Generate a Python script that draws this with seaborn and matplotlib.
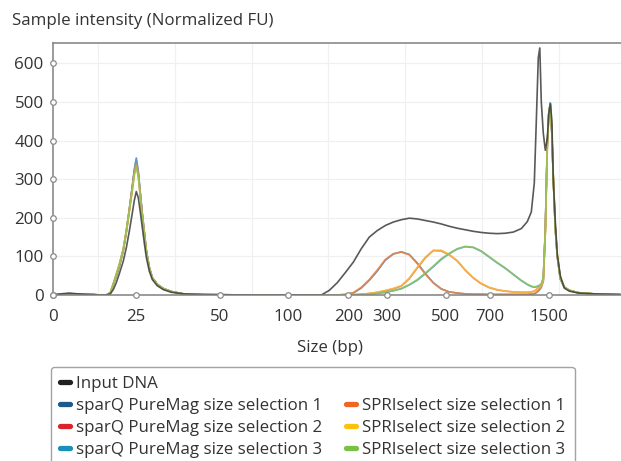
import numpy as np
import pandas as pd
import matplotlib
matplotlib.use("Agg")
import matplotlib.pyplot as plt
from matplotlib.lines import Line2D
import seaborn as sns

# migration position (arbitrary units along the run) and intensity per sample
pos = [0, 8, 16, 24, 32, 40, 48, 53, 57, 60,
       63, 66, 70, 73, 76, 79, 81, 83, 85, 87,
       89, 91, 93, 96, 99, 104, 110, 118, 130, 150,
       200, 250, 268, 276, 284, 292, 300, 308, 316, 324,
       332, 340, 348, 356, 364, 372, 380, 388, 396, 404,
       412, 420, 428, 436, 444, 452, 460, 468, 474, 478,
       481, 483, 485, 486.5, 488, 490, 492, 494, 495.5, 497,
       498.5, 500, 502, 504, 507, 511, 516, 525, 540, 567]

input_dna = [0, 3, 5, 3, 2, 1, 0, 0, 3, 14,
             32, 55, 88, 122, 165, 212, 245, 268, 252, 215,
             175, 135, 98, 62, 40, 24, 14, 7, 3, 1,
             0, 0, 0, 12, 32, 58, 85, 120, 150, 167,
             180, 189, 195, 199, 197, 193, 189, 184, 178, 173,
             169, 165, 162, 160, 159, 160, 163, 172, 190, 215,
             290, 450, 615, 640, 500, 419, 375, 405, 470, 495,
             455, 300, 190, 105, 50, 18, 10, 5, 3, 1]

sparq_1 = [0, 2, 3, 2, 1, 1, 0, 0, 5, 28,
           50, 75, 117, 165, 222, 282, 325, 355, 320, 265,
           212, 165, 117, 72, 45, 28, 17, 9, 3, 1,
           0, 0, 0, 0, 0, 1, 5, 18, 38, 62,
           90, 106, 112, 105, 83, 56, 32, 16, 8, 5,
           3, 2, 2, 1, 1, 1, 1, 1, 1, 2,
           3, 6, 10, 14, 20, 35, 168, 390, 470, 497,
           420, 300, 170, 100, 42, 20, 12, 6, 3, 1]

sparq_2 = [0, 2, 3, 2, 1, 1, 0, 0, 5, 26,
           48, 72, 114, 160, 218, 278, 320, 345, 315, 262,
           208, 162, 115, 71, 44, 27, 16, 9, 3, 1,
           0, 0, 0, 0, 0, 0, 1, 2, 4, 7,
           11, 16, 23, 42, 70, 96, 115, 114, 104, 88,
           64, 44, 29, 19, 13, 10, 8, 7, 7, 8,
           10, 14, 19, 22, 26, 40, 165, 388, 472, 496,
           422, 302, 172, 100, 42, 20, 12, 6, 3, 1]

sparq_3 = [0, 2, 3, 2, 1, 1, 0, 0, 5, 27,
           49, 74, 116, 163, 220, 280, 322, 350, 318, 263,
           210, 163, 116, 72, 45, 28, 17, 9, 3, 1,
           0, 0, 0, 0, 0, 0, 0, 1, 2, 4,
           7, 11, 16, 26, 38, 55, 73, 92, 107, 119,
           125, 123, 113, 98, 83, 69, 53, 37, 27, 22,
           20, 21, 23, 25, 28, 45, 170, 392, 474, 498,
           420, 300, 170, 100, 42, 20, 12, 6, 3, 1]

spri_1 = [0, 2, 3, 2, 1, 1, 0, 0, 6, 30,
          55, 80, 120, 168, 222, 278, 318, 340, 312, 258,
          205, 160, 114, 70, 44, 27, 16, 9, 3, 1,
          0, 0, 0, 0, 0, 2, 6, 20, 40, 65,
          92, 107, 111, 104, 81, 54, 31, 15, 8, 5,
          3, 2, 2, 2, 2, 2, 2, 2, 2, 3,
          4, 7, 12, 17, 22, 38, 160, 385, 468, 495,
          425, 305, 175, 102, 45, 21, 12, 6, 3, 1]

spri_2 = [0, 2, 3, 2, 1, 1, 0, 0, 6, 28,
          52, 78, 118, 163, 215, 270, 310, 330, 305, 255,
          202, 158, 112, 69, 43, 26, 16, 9, 3, 1,
          0, 0, 0, 0, 0, 0, 1, 2, 4, 7,
          12, 17, 24, 44, 72, 98, 116, 116, 105, 89,
          65, 45, 30, 20, 14, 10, 8, 7, 7, 8,
          10, 13, 18, 21, 25, 38, 158, 382, 468, 494,
          425, 305, 175, 102, 44, 21, 12, 6, 3, 1]

spri_3 = [0, 2, 3, 2, 1, 1, 0, 0, 6, 29,
          53, 79, 119, 166, 217, 272, 312, 335, 308, 256,
          204, 159, 113, 70, 44, 27, 16, 9, 3, 1,
          0, 0, 0, 0, 0, 0, 0, 1, 2, 4,
          7, 11, 17, 27, 40, 57, 75, 94, 108, 120,
          126, 124, 114, 99, 84, 70, 54, 38, 28, 23,
          21, 22, 24, 26, 29, 44, 165, 388, 470, 496,
          423, 303, 173, 101, 43, 21, 12, 6, 3, 1]

# ladder: size labels and where they sit on the position axis
ladder_bp = ["0", "25", "50", "100", "200", "300", "500", "700", "1500"]
ladder_pos = [0, 82.7, 166.7, 234.3, 295, 334, 392.3, 436.7, 496]
y_ticks = [0, 100, 200, 300, 400, 500, 600]

names = ["Input DNA",
         "sparQ PureMag size selection 1", "sparQ PureMag size selection 2",
         "sparQ PureMag size selection 3",
         "SPRIselect size selection 1", "SPRIselect size selection 2",
         "SPRIselect size selection 3"]
legend_colors = ["#231f20", "#1b5a8c", "#dc2229", "#1a8fb9",
                 "#f26524", "#fcc20e", "#7ac043"]
line_colors = ["#3c3c3c", "#4f7fb3", "#e8713a", "#4c9fd0",
               "#f0823a", "#f6b93b", "#8cc35a"]

df = pd.DataFrame({"pos": pos, names[0]: input_dna,
                   names[1]: sparq_1, names[2]: sparq_2, names[3]: sparq_3,
                   names[4]: spri_1, names[5]: spri_2, names[6]: spri_3})
long = df.melt(id_vars="pos", var_name="sample", value_name="FU")

sns.set_theme(style="white")
plt.rcParams["font.family"] = ["Open Sans", "DejaVu Sans"]
txt = "#333333"
fs = 12.2

fig = plt.figure(figsize=(6.21, 4.61), dpi=100)
ax = fig.add_axes([53.3 / 621, 166 / 461, 567.7 / 621, 252.3 / 461])

# faint background grid
for gx in np.arange(45, 567, 76.7):
    ax.axvline(gx, color="#f0f0f0", lw=0.9, zorder=0)
for gy in y_ticks[1:]:
    ax.axhline(gy, color="#f0f0f0", lw=0.9, zorder=0)

draw_order = names[1:] + names[:1]
sns.lineplot(data=long, x="pos", y="FU", hue="sample", hue_order=draw_order,
             palette=dict(zip(names, line_colors)), estimator=None, sort=False,
             lw=1.2, alpha=0.85, legend=False, ax=ax)

ax.set_xlim(0, 567.7)
ax.set_ylim(0, 653.6)
ax.set_xticks(ladder_pos)
ax.set_xticklabels(ladder_bp)
ax.set_yticks(y_ticks)
ax.tick_params(axis="both", length=0, labelsize=fs, colors=txt)
ax.tick_params(axis="x", pad=10)
ax.tick_params(axis="y", pad=7)
ax.set_xlabel("Size (bp)", fontsize=fs, color=txt)
ax.xaxis.set_label_coords(0.487, -0.18)
ax.set_ylabel("")
for s in ["left", "bottom", "top"]:
    ax.spines[s].set_color("#808080")
    ax.spines[s].set_linewidth(1.1)
ax.spines["right"].set_visible(False)

# round tick markers on the axes
ax.plot(ladder_pos, [0] * len(ladder_pos), "o", ms=4, mfc="white", mec="#8a8a8a",
        mew=0.9, clip_on=False, zorder=5)
ax.plot([0] * len(y_ticks), y_ticks, "o", ms=4, mfc="white", mec="#8a8a8a",
        mew=0.9, clip_on=False, zorder=5)

fig.text(12 / 621, 1 - 21 / 461, "Sample intensity (Normalized FU)",
         fontsize=fs, color=txt, ha="left", va="center")

handles = [Line2D([], [], color=legend_colors[0], lw=3.8, solid_capstyle="round")]
labels = [names[0]]
for i in range(1, 4):
    handles.append(Line2D([], [], color=legend_colors[i], lw=3.8, solid_capstyle="round"))
    labels.append(names[i])
handles.append(Line2D([], [], color="none"))
labels.append("")
for i in range(4, 7):
    handles.append(Line2D([], [], color=legend_colors[i], lw=3.8, solid_capstyle="round"))
    labels.append(names[i])

leg = fig.legend(handles, labels, ncol=2, loc="upper left",
                 bbox_to_anchor=(50.7 / 621, 1 - 367 / 461), borderaxespad=0,
                 frameon=True, fancybox=True, fontsize=fs, handlelength=0.57,
                 handletextpad=0.38, columnspacing=1.4, labelspacing=0.35,
                 borderpad=0.55)
leg.get_frame().set_edgecolor("#8c8c8c")
leg.get_frame().set_linewidth(1.0)
for t in leg.get_texts():
    t.set_color(txt)

fig.savefig("out.png", dpi=100)
